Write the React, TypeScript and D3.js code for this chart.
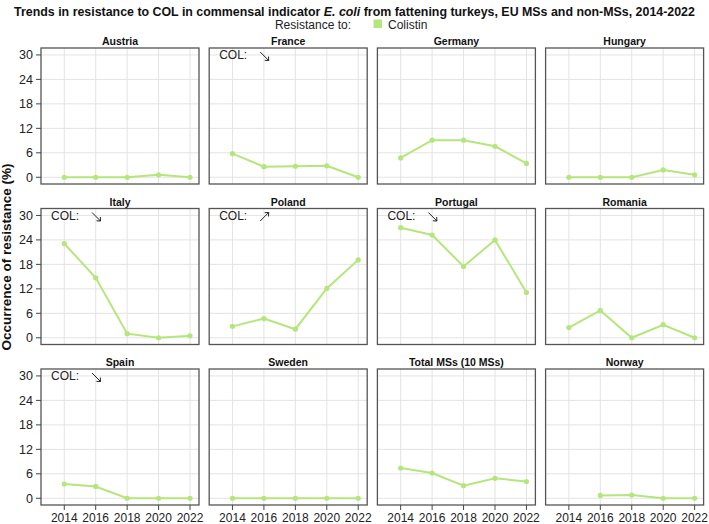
import React from "react";
import * as d3 from "d3";

const years = [2014, 2016, 2018, 2020, 2022];
const countries = [
  "Austria", "France", "Germany", "Hungary",
  "Italy", "Poland", "Portugal", "Romania",
  "Spain", "Sweden", "Total MSs (10 MSs)", "Norway",
];
const austria = [0, 0, 0, 0.6, 0];
const france = [5.8, 2.6, 2.7, 2.8, 0];
const germany = [4.75, 9.1, 9.1, 7.6, 3.4];
const hungary = [0, 0, 0, 1.8, 0.6];
const italy = [23.1, 14.7, 1.0, 0, 0.5];
const poland = [2.8, 4.7, 2.1, 12.1, 19.1];
const portugal = [27.0, 25.2, 17.5, 24.0, 11.1];
const romania = [2.5, 6.7, 0, 3.2, 0];
const spain = [3.5, 2.9, 0, 0, 0];
const sweden = [0, 0, 0, 0, 0];
const totalMS = [7.4, 6.2, 3.1, 4.9, 4.1];
const norway: (number | null)[] = [null, 0.7, 0.8, 0, 0];
const seriesValues = [austria, france, germany, hungary, italy, poland, portugal, romania, spain, sweden, totalMS, norway];
// trend arrows: "down", "up" or null
const trends: (string | null)[] = [null, "down", null, null, "down", "up", "down", null, "down", null, null, null];
const yTicks = [0, 6, 12, 18, 24, 30];

const FONT = "'Liberation Sans Narrow', 'Arial Narrow', 'Liberation Sans', Arial, sans-serif";
const LINE = "#b5e67c";

export default function App() {
  const W = 709, H = 524;
  const pw = 158, ph = 136;
  const colLeft = (j: number) => 41 + j * 168.2;
  const rowTop = (i: number) => 48 + i * 160.5;
  const x = d3.scaleLinear().domain([2012.52, 2022.57]).range([0, pw]);
  const y = d3.scaleLinear().domain([-1.65, 31.7]).range([ph, 0]);
  const line = d3.line<[number, number | null]>()
    .defined((d) => d[1] !== null)
    .x((d) => x(d[0]))
    .y((d) => y(d[1] as number));

  return (
    <svg width={W} height={H} style={{ position: "absolute", left: 0, top: 0 }} fontFamily={FONT}>
      <rect width={W} height={H} fill="#fff" />
      <text x={354.5} y={16} textAnchor="middle" fontSize={12.4} fontWeight="bold" fill="#111">
        <tspan>Trends in resistance to COL in commensal indicator </tspan>
        <tspan fontStyle="italic">E. coli</tspan>
        <tspan> from fattening turkeys, EU MSs and non-MSs, 2014-2022</tspan>
      </text>
      <text x={351} y={28.5} textAnchor="end" fontSize={12} fill="#222">Resistance to:</text>
      <rect x={373.5} y={19.5} width={8.5} height={8.5} fill={LINE} />
      <text x={388} y={28.5} fontSize={12} fill="#222">Colistin</text>
      <text transform={`translate(11,257) rotate(-90)`} textAnchor="middle" fontSize={13.5} fontWeight="bold" fill="#111">
        Occurrence of resistance (%)
      </text>
      {countries.map((c, k) => {
        const i = Math.floor(k / 4), j = k % 4;
        const vals = seriesValues[k];
        const pts: [number, number | null][] = years.map((yr, idx) => [yr, vals[idx]]);
        const tr = trends[k];
        return (
          <g key={c} transform={`translate(${colLeft(j)},${rowTop(i)})`}>
            <text x={pw / 2} y={-3} textAnchor="middle" fontSize={10.5} fontWeight="bold" fill="#111">{c}</text>
            {yTicks.map((t) => (
              <line key={"gy" + t} x1={0} x2={pw} y1={y(t)} y2={y(t)} stroke="#e3e3e3" strokeWidth={1} />
            ))}
            {years.map((t) => (
              <line key={"gx" + t} x1={x(t)} x2={x(t)} y1={0} y2={ph} stroke="#e3e3e3" strokeWidth={1} />
            ))}
            <path d={line(pts) || ""} fill="none" stroke={LINE} strokeWidth={2} />
            {pts.filter((p) => p[1] !== null).map((p) => (
              <circle key={p[0]} cx={x(p[0])} cy={y(p[1] as number)} r={2.6} fill={LINE} />
            ))}
            {tr && (
              <g>
                <text x={10} y={11} fontSize={12} fill="#222">COL:</text>
                {tr === "down" ? (
                  <g stroke="#222" strokeWidth={1} fill="none">
                    <line x1={51} y1={4} x2={59.5} y2={12.5} />
                    <path d="M55.5,12.3 L59.5,12.5 L59.3,8.5" />
                  </g>
                ) : (
                  <g stroke="#222" strokeWidth={1} fill="none">
                    <line x1={51} y1={12.5} x2={59.5} y2={4} />
                    <path d="M55.5,4.2 L59.5,4 L59.3,8" />
                  </g>
                )}
              </g>
            )}
            <rect x={0} y={0} width={pw} height={ph} fill="none" stroke="#555" strokeWidth={1.3} />
            {j === 0 && yTicks.map((t) => (
              <g key={"ty" + t}>
                <line x1={-5} x2={0} y1={y(t)} y2={y(t)} stroke="#444" />
                <text x={-8} y={y(t)} dy="0.35em" textAnchor="end" fontSize={12.5} fill="#222">{t}</text>
              </g>
            ))}
            {i === 2 && years.map((t) => (
              <g key={"tx" + t}>
                <line x1={x(t)} x2={x(t)} y1={ph} y2={ph + 5} stroke="#444" />
                <text x={x(t)} y={ph + 17} textAnchor="middle" fontSize={12} fill="#222">{t}</text>
              </g>
            ))}
          </g>
        );
      })}
    </svg>
  );
}
